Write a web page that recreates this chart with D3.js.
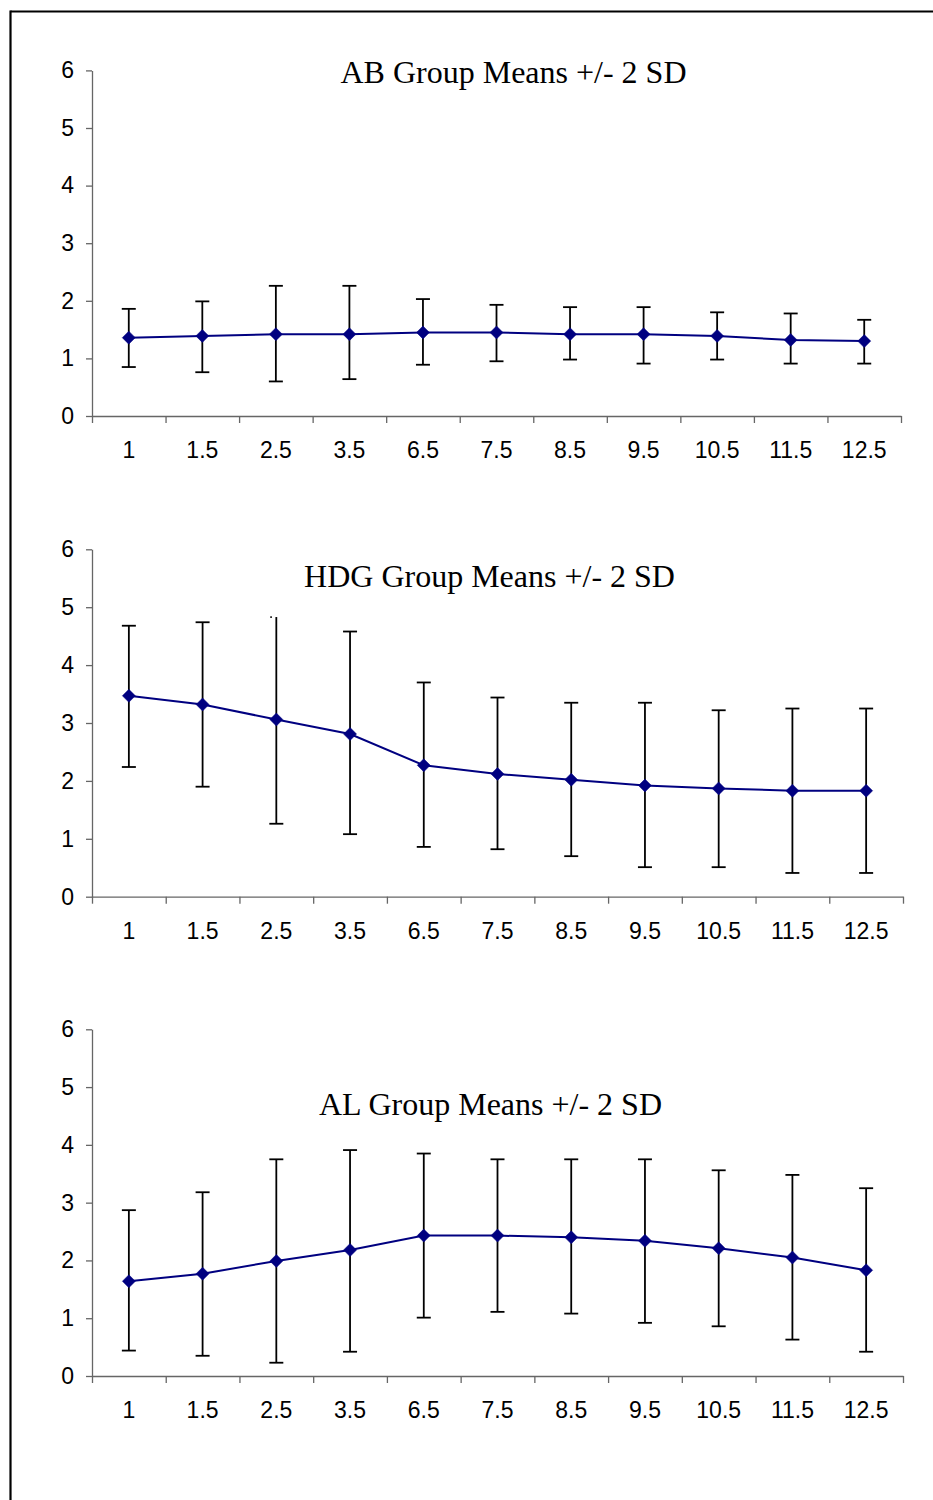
<!DOCTYPE html>
<html>
<head>
<meta charset="utf-8">
<script src="https://cdn.jsdelivr.net/npm/d3@7"></script>
<style>
  html, body { margin: 0; padding: 0; background: #fff; }
  svg { display: block; }
</style>
</head>
<body>
<svg id="chart" width="933" height="1500"></svg>
<script>
const categories = ["1","1.5","2.5","3.5","6.5","7.5","8.5","9.5","10.5","11.5","12.5"];
const yTicks = [0,1,2,3,4,5,6];

const abMean  = [1.36,1.39,1.42,1.42,1.45,1.45,1.42,1.42,1.39,1.32,1.30];
const abUpper = [1.86,1.99,2.26,2.26,2.03,1.93,1.89,1.89,1.80,1.78,1.67];
const abLower = [0.85,0.76,0.60,0.64,0.89,0.95,0.98,0.91,0.98,0.91,0.91];

const hdgMean  = [3.47,3.32,3.06,2.81,2.27,2.12,2.02,1.92,1.87,1.83,1.83];
const hdgUpper = [4.68,4.74,4.83,4.58,3.70,3.44,3.35,3.35,3.22,3.25,3.25];
const hdgLower = [2.24,1.90,1.26,1.08,0.86,0.82,0.70,0.51,0.51,0.41,0.41];

const alMean  = [1.64,1.77,1.99,2.18,2.43,2.43,2.40,2.34,2.21,2.05,1.83];
const alUpper = [2.87,3.18,3.75,3.91,3.85,3.75,3.75,3.75,3.56,3.48,3.25];
const alLower = [0.44,0.35,0.23,0.42,1.01,1.11,1.08,0.92,0.86,0.63,0.42];

const titles = ["AB Group Means +/- 2 SD", "HDG Group Means +/- 2 SD", "AL Group Means +/- 2 SD"];

const panels = [
  { title: titles[0], mean: abMean,  upper: abUpper,  lower: abLower,  top: 70.4,  bottom: 416,   left: 92, right: 901, titleX: 513.5, titleY: 82.7, hiddenCaps: [] },
  { title: titles[1], mean: hdgMean, upper: hdgUpper, lower: hdgLower, top: 549.3, bottom: 896.7, left: 92, right: 903, titleX: 489.5, titleY: 586.7, hiddenCaps: [2] },
  { title: titles[2], mean: alMean,  upper: alUpper,  lower: alLower,  top: 1029.3, bottom: 1376, left: 92, right: 903, titleX: 490.5, titleY: 1115, hiddenCaps: [] }
];

const svg = d3.select("#chart");

// page border (top and left)
svg.append("line").attr("x1", 10.5).attr("x2", 933).attr("y1", 11.5).attr("y2", 11.5)
  .attr("stroke", "#000").attr("stroke-width", 2.2);
svg.append("line").attr("x1", 10.5).attr("x2", 10.5).attr("y1", 10.4).attr("y2", 1500)
  .attr("stroke", "#000").attr("stroke-width", 2.2);

const axisColor = "#666";
const navy = "#000080";

panels.forEach(p => {
  const g = svg.append("g");
  const x = d3.scaleBand().domain(categories).range([p.left, p.right]).paddingInner(0).paddingOuter(0);
  const xEdge = d3.scaleLinear().domain([0, categories.length]).range([p.left, p.right]);
  const y = d3.scaleLinear().domain([0, 6]).range([p.bottom, p.top]);
  const cx = i => x(categories[i]) + x.bandwidth() / 2;

  // title
  g.append("text")
    .attr("x", p.titleX).attr("y", p.titleY)
    .attr("text-anchor", "middle")
    .attr("font-family", "'Liberation Serif','Times New Roman',serif")
    .attr("font-size", 32)
    .attr("fill", "#000")
    .text(p.title);

  // y axis
  const yAxis = g.append("g")
    .attr("transform", `translate(${p.left},0)`)
    .call(d3.axisLeft(y).tickValues(yTicks).tickFormat(d3.format("d")).tickSize(6).tickSizeOuter(0).tickPadding(12));
  yAxis.select(".domain").attr("stroke", axisColor).attr("stroke-width", 1.3);
  yAxis.selectAll(".tick line").attr("stroke", axisColor).attr("stroke-width", 1.3);
  yAxis.selectAll(".tick text")
    .attr("font-family", "'Liberation Sans',Arial,sans-serif")
    .attr("font-size", 23).attr("fill", "#000");

  // x axis: edge ticks
  const xAxisEdges = g.append("g")
    .attr("transform", `translate(0,${p.bottom})`)
    .call(d3.axisBottom(xEdge).tickValues(d3.range(categories.length + 1)).tickFormat("").tickSize(7).tickSizeOuter(0));
  xAxisEdges.select(".domain").attr("stroke", axisColor).attr("stroke-width", 1.3);
  xAxisEdges.selectAll(".tick line").attr("stroke", axisColor).attr("stroke-width", 1.3);

  // x axis: category labels
  const xAxisLabels = g.append("g")
    .attr("transform", `translate(0,${p.bottom})`)
    .call(d3.axisBottom(x).tickSize(0).tickSizeOuter(0).tickPadding(26));
  xAxisLabels.select(".domain").remove();
  xAxisLabels.selectAll(".tick text")
    .attr("font-family", "'Liberation Sans',Arial,sans-serif")
    .attr("font-size", 23).attr("fill", "#000");

  // error bars
  const idx = d3.range(categories.length);
  const eb = g.append("g").attr("stroke", "#000").attr("stroke-width", 1.8).attr("fill", "none");
  eb.selectAll("line.v").data(idx).join("line").attr("class", "v")
    .attr("x1", i => cx(i)).attr("x2", i => cx(i))
    .attr("y1", i => y(p.upper[i])).attr("y2", i => y(p.lower[i]));
  eb.selectAll("line.cu").data(idx.filter(i => !p.hiddenCaps.includes(i))).join("line").attr("class", "cu")
    .attr("x1", i => cx(i) - 7).attr("x2", i => cx(i) + 7)
    .attr("y1", i => y(p.upper[i])).attr("y2", i => y(p.upper[i]));
  eb.selectAll("line.cl").data(idx).join("line").attr("class", "cl")
    .attr("x1", i => cx(i) - 7).attr("x2", i => cx(i) + 7)
    .attr("y1", i => y(p.lower[i])).attr("y2", i => y(p.lower[i]));
  // remnant of hidden cap (small dot at left end)
  eb.selectAll("line.cd").data(p.hiddenCaps).join("line").attr("class", "cd")
    .attr("x1", i => cx(i) - 6).attr("x2", i => cx(i) - 4.5)
    .attr("y1", i => y(p.upper[i])).attr("y2", i => y(p.upper[i]));

  // mean line
  const line = d3.line().x(i => cx(i)).y(i => y(p.mean[i]));
  g.append("path").datum(idx).attr("d", line)
    .attr("fill", "none").attr("stroke", navy).attr("stroke-width", 2);

  // diamond markers
  const r = 6.5;
  g.selectAll("path.mk").data(idx).join("path").attr("class", "mk")
    .attr("d", i => {
      const px = cx(i), py = y(p.mean[i]);
      return `M${px},${py - r}L${px + r},${py}L${px},${py + r}L${px - r},${py}Z`;
    })
    .attr("fill", navy).attr("stroke", navy).attr("stroke-width", 0.5);
});
</script>
</body>
</html>
